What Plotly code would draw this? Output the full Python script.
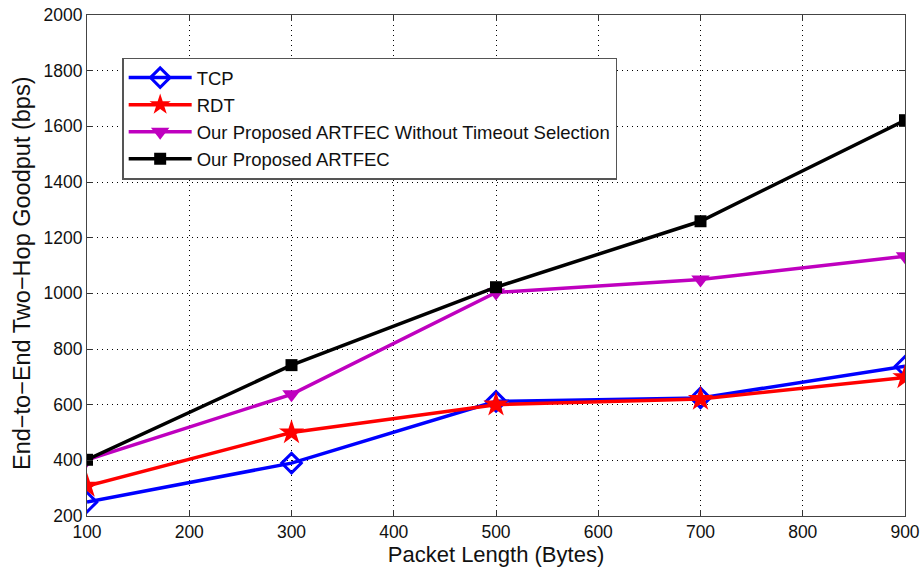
import plotly.graph_objects as go

packet_length = [100, 300, 500, 700, 900]
tcp = [250, 390, 612, 624, 738]
rdt = [308, 500, 600, 620, 698]
artfec_no_timeout = [402, 637, 1003, 1050, 1133]
artfec = [402, 742, 1022, 1259, 1622]

x_ticks = [100, 200, 300, 400, 500, 600, 700, 800, 900]
y_ticks = [200, 400, 600, 800, 1000, 1200, 1400, 1600, 1800, 2000]

fig = go.Figure()
fig.add_trace(go.Scatter(x=packet_length, y=tcp, name="TCP", mode="lines+markers",
                         line=dict(color="#0000ff", width=3.5),
                         marker=dict(symbol="diamond-open", size=15, color="#0000ff", line=dict(width=3))))
fig.add_trace(go.Scatter(x=packet_length, y=rdt, name="RDT", mode="lines+markers",
                         line=dict(color="#ff0000", width=3.5),
                         marker=dict(symbol="star", size=19, color="#ff0000", line=dict(width=0))))
fig.add_trace(go.Scatter(x=packet_length, y=artfec_no_timeout, name="Our Proposed ARTFEC Without Timeout Selection",
                         mode="lines+markers",
                         line=dict(color="#bf00bf", width=3.5),
                         marker=dict(symbol="triangle-down", size=16, color="#bf00bf", line=dict(width=0))))
fig.add_trace(go.Scatter(x=packet_length, y=artfec, name="Our Proposed ARTFEC", mode="lines+markers",
                         line=dict(color="#000000", width=3.5),
                         marker=dict(symbol="square", size=12, color="#000000", line=dict(width=0))))

axis_common = dict(showline=True, linecolor="#444444", linewidth=1, mirror="ticks",
                   ticks="inside", ticklen=6, tickcolor="#333333", automargin=False,
                   ticklabeloverflow="allow",
                   showgrid=True, gridcolor="#000000", griddash="1px,4px", gridwidth=1,
                   zeroline=False, tickfont=dict(size=17.5, color="#111111", family="Liberation Sans"))

fig.update_layout(
    width=920, height=569,
    margin=dict(l=87, r=15, t=15, b=53),
    paper_bgcolor="white", plot_bgcolor="white",
    font=dict(family="Liberation Sans", color="#111111"),
    xaxis=dict(range=[100, 900], tickvals=x_ticks,
               title=dict(text="Packet Length (Bytes)", font=dict(size=22), standoff=2), **axis_common),
    yaxis=dict(range=[200, 2000], tickvals=y_ticks, **axis_common),
    legend=dict(x=0.043, y=0.915, xanchor="left", yanchor="top",
                bgcolor="white", bordercolor="#555555", borderwidth=1.5,
                font=dict(size=18.5), tracegroupgap=0, itemwidth=63,
                traceorder="normal"),
    showlegend=True,
    annotations=[dict(text="End−to−End Two−Hop Goodput (bps)", textangle=-90,
                      xref="paper", yref="paper", x=-0.0795, y=0.485,
                      xanchor="center", yanchor="middle", showarrow=False,
                      font=dict(size=23.5, color="#111111"))],
)

fig.write_html("out.html", config={"displayModeBar": False},
               post_script="document.body.style.margin='0';document.body.style.overflow='hidden';")
